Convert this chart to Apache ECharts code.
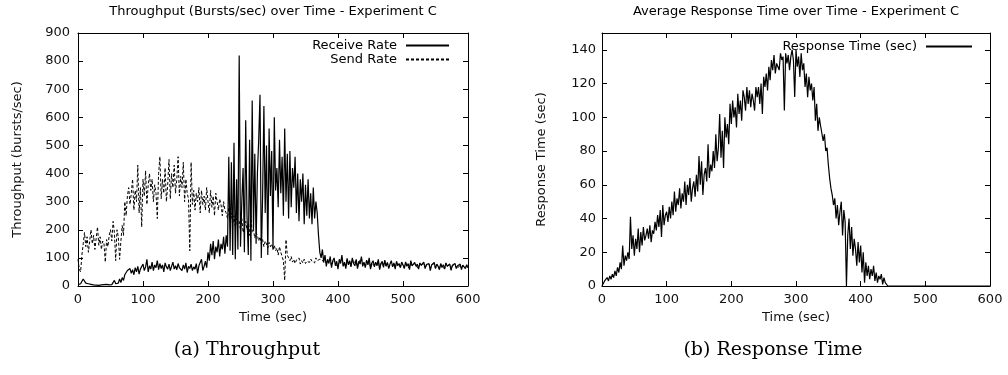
<!DOCTYPE html>
<html>
<head>
<meta charset="utf-8">
<script src="https://cdn.jsdelivr.net/npm/echarts@6/dist/echarts.min.js"></script>
<style>
html,body{margin:0;padding:0;background:#fff;}
#c{width:1008px;height:375px;}
</style>
</head>
<body>
<div id="c"></div>
<script>
// Sampling step of the time axis (seconds)
const timeStep = 2;

// Throughput chart: Receive Rate (bursts/sec), t = 0..600 every 2 s
const receiveRate = [
  5,2,8,15,25,18,10,14,8,12,
  6,9,4,7,3,6,2,5,4,3,
  5,2,6,3,4,8,5,12,20,8,
  15,10,25,12,30,20,40,45,55,48,
  62,45,58,40,65,50,70,42,60,55,
  78,55,68,95,50,72,60,85,55,75,
  65,90,58,80,62,75,50,82,68,60,
  78,55,70,85,60,72,58,80,65,70,
  55,75,60,82,48,70,62,78,55,68,
  60,80,45,72,65,95,55,70,88,65,
  120,90,150,110,160,95,140,120,165,105,
  150,130,175,115,180,140,460,125,440,110,
  510,95,380,130,820,140,300,420,120,590,
  250,110,520,90,660,200,470,150,400,520,
  680,100,320,640,260,500,110,560,320,480,
  130,600,340,420,280,520,330,460,250,560,
  300,470,240,480,280,420,350,460,260,400,
  230,380,300,400,220,360,250,380,240,330,
  220,350,240,300,260,180,120,100,130,85,
  110,70,95,80,105,65,90,100,72,88,
  60,95,80,110,70,85,62,98,75,90,
  68,100,80,72,95,62,88,78,105,70,
  85,65,92,75,100,60,82,90,68,85,
  72,95,58,80,88,66,92,70,84,62,
  78,90,68,82,60,88,72,80,65,85,
  75,62,86,70,80,58,90,72,66,84,
  70,78,60,82,74,68,85,62,76,70,
  80,55,75,68,84,62,78,70,58,80,
  66,76,60,82,70,64,78,56,74,68,
  80,62,72,66,78,58,74,68,62,76,
  65
];

// Throughput chart: Send Rate (bursts/sec)
const sendRate = [
  95,60,50,110,150,190,140,175,120,160,
  200,150,180,130,170,210,145,175,130,160,
  150,85,165,140,180,200,160,230,190,90,
  200,175,95,160,215,180,300,250,320,350,
  290,330,380,270,340,300,430,260,350,210,
  380,320,410,290,360,400,340,380,300,360,
  330,240,400,460,310,380,330,420,300,360,
  450,310,400,350,430,330,380,460,320,390,
  350,440,300,380,330,310,125,440,290,340,
  270,330,300,350,260,340,290,320,270,350,
  300,260,340,280,320,250,330,300,270,310,
  290,250,300,270,260,240,280,230,260,220,
  250,210,240,220,230,200,240,190,210,230,
  200,220,180,250,190,200,170,190,180,160,
  175,150,165,140,160,150,135,155,140,150,
  130,145,125,135,110,140,120,105,90,20,
  165,110,100,90,105,85,95,80,92,85,
  100,78,90,82,95,80,88,92,84,96,
  88,95,82,100,90,86,95,88,92,84,
  100,78,90,84,98,72,86,95,78,84,
  68,90,82,102,74,82,66,94,78,86,
  72,96,82,76,90,66,84,80,100,72,
  82,68,90,78,96,64,80,86,72,82,
  74,90,62,78,86,70,88,72,82,66,
  76,86,70,80,64,84,74,78,68,82,
  74,66,82,72,78,62,86,72,68,80,
  70,76,64,80,72,70,82,64,74,70,
  78,60,74,70,80,64,76,70,62,78,
  68,74,62,80,70,66,76,60,72,68,
  78,64,70,68,76,62,72,68,64,74,
  66
];

// Response time chart: Response Time (sec)
const responseTime = [
  0,1,3,2,5,3,6,4,7,5,
  9,6,11,8,14,10,24,12,18,15,
  20,16,41,22,30,18,28,22,34,20,
  32,24,35,27,30,34,28,36,26,33,
  31,38,33,42,35,45,29,48,36,42,
  44,38,47,40,50,42,56,44,52,48,
  58,46,55,50,62,48,60,54,64,50,
  58,62,53,66,56,77,60,74,54,66,
  70,62,84,64,72,68,80,70,90,74,
  82,102,76,92,70,100,88,96,84,108,
  96,110,100,106,94,114,102,110,98,116,
  112,104,118,108,116,106,114,110,104,118,
  112,118,108,120,102,124,118,126,116,130,
  122,134,128,137,126,132,130,128,138,134,
  136,104,138,132,137,128,136,140,134,112,
  140,130,136,124,138,128,132,118,126,112,
  124,116,120,110,118,98,108,92,100,95,
  96,86,90,80,82,72,64,58,54,48,
  52,40,48,36,44,50,30,45,38,0,
  30,40,22,35,18,28,22,12,26,14,
  24,8,20,2,14,6,12,4,10,6,
  12,3,8,2,6,4,7,1,5,2,
  3,0,0,0,0,0,0,0,0,0,
  0,0,0,0,0,0,0,0,0,0,
  0,0,0,0,0,0,0,0,0,0,
  0,0,0,0,0,0,0,0,0,0,
  0,0,0,0,0,0,0,0,0,0,
  0,0,0,0,0,0,0,0,0,0,
  0,0,0,0,0,0,0,0,0,0,
  0,0,0,0,0,0,0,0,0,0,
  0
];

const titles = ['Throughput (Bursts/sec) over Time - Experiment C', 'Average Response Time over Time - Experiment C'];
const captions = ['(a) Throughput', '(b) Response Time'];
const xName = 'Time (sec)';
const yNames = ['Throughput (bursts/sec)', 'Response Time (sec)'];
const seriesNames = ['Receive Rate', 'Send Rate', 'Response Time (sec)'];

const pairs = vals => vals.map((v, i) => [i * timeStep, v]);

const FONT = 'DejaVu Sans';
const INK = '#111';

function xAx(grid, top) {
  return {
    type: 'value', gridIndex: grid, min: 0, max: 600, interval: 100,
    position: top ? 'top' : 'bottom',
    name: top ? '' : xName, nameLocation: 'middle', nameGap: 24,
    nameTextStyle: {fontFamily: FONT, fontSize: 13, color: INK},
    axisLine: {show: true, onZero: false, lineStyle: {color: '#000', width: 1}},
    axisTick: {show: true, inside: true, length: 5, lineStyle: {color: '#000', width: 1}},
    axisLabel: {show: !top, fontFamily: FONT, fontSize: 13, color: INK, margin: 7},
    splitLine: {show: false}
  };
}
function yAx(grid, right, max, interval, name, margin) {
  return {
    type: 'value', gridIndex: grid, min: 0, max: max, interval: interval,
    position: right ? 'right' : 'left',
    name: right ? '' : name, nameLocation: 'middle', nameGap: 54,
    nameTextStyle: {fontFamily: FONT, fontSize: 13, color: INK},
    axisLine: {show: true, onZero: false, lineStyle: {color: '#000', width: 1}},
    axisTick: {show: true, inside: true, length: 5, lineStyle: {color: '#000', width: 1}},
    axisLabel: {show: !right, fontFamily: FONT, fontSize: 13, color: INK, margin: margin,
      formatter: v => (v % interval === 0 ? String(v) : '')},
    splitLine: {show: false}
  };
}

const legendText = {fontFamily: FONT, fontSize: 13, color: '#000', padding: [0, 4, 0, 0]};

const chart = echarts.init(document.getElementById('c'), null, {renderer: 'canvas'});
chart.setOption({
  animation: false,
  backgroundColor: '#fff',
  grid: [
    {left: 78, top: 33, width: 390, height: 253},
    {left: 602, top: 33, width: 388, height: 253}
  ],
  xAxis: [xAx(0, false), xAx(0, true), xAx(1, false), xAx(1, true)],
  yAxis: [
    yAx(0, false, 900, 100, yNames[0], 8), yAx(0, true, 900, 100, '', 8),
    yAx(1, false, 150, 20, yNames[1], 6), yAx(1, true, 150, 20, '', 6)
  ],
  legend: [
    {data: [seriesNames[0], seriesNames[1]], orient: 'vertical', align: 'right', padding: 0,
     right: 558, top: 39, itemWidth: 43, itemHeight: 14, itemGap: 1,
     itemStyle: {opacity: 0}, textStyle: legendText},
    {data: [seriesNames[2]], orient: 'vertical', align: 'right', padding: 0,
     right: 35, top: 40, itemWidth: 46, itemHeight: 14,
     itemStyle: {opacity: 0}, textStyle: legendText}
  ],
  graphic: [
    {type: 'text', x: 273, y: 12, style: {text: titles[0], font: '13px "DejaVu Sans"', fill: '#000', textAlign: 'center', textVerticalAlign: 'middle'}},
    {type: 'text', x: 796, y: 12, style: {text: titles[1], font: '13px "DejaVu Sans"', fill: '#000', textAlign: 'center', textVerticalAlign: 'middle'}},
    {type: 'text', x: 247, y: 350, style: {text: captions[0], font: '19px "DejaVu Serif"', fill: '#000', textAlign: 'center', textVerticalAlign: 'middle'}},
    {type: 'text', x: 773, y: 350, style: {text: captions[1], font: '19px "DejaVu Serif"', fill: '#000', textAlign: 'center', textVerticalAlign: 'middle'}}
  ],
  series: [
    {name: seriesNames[0], type: 'line', xAxisIndex: 0, yAxisIndex: 0, data: pairs(receiveRate),
     symbol: 'none', lineStyle: {color: '#000', width: 1.2}, itemStyle: {color: '#000'}},
    {name: seriesNames[1], type: 'line', xAxisIndex: 0, yAxisIndex: 0, data: pairs(sendRate),
     symbol: 'none', lineStyle: {color: '#000', width: 1, type: [3, 2]}, itemStyle: {color: '#000'}},
    {name: seriesNames[2], type: 'line', xAxisIndex: 2, yAxisIndex: 2, data: pairs(responseTime),
     symbol: 'none', lineStyle: {color: '#000', width: 1.2}, itemStyle: {color: '#000'}}
  ]
});
</script>
</body>
</html>
